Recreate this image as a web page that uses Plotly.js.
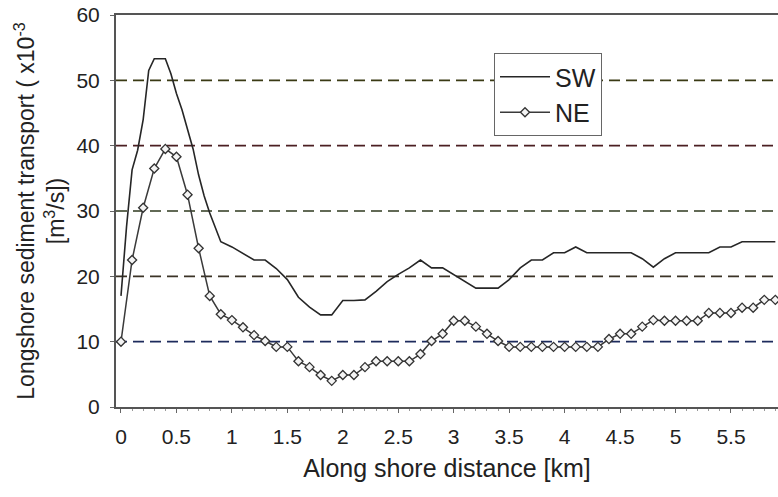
<!DOCTYPE html>
<html>
<head>
<meta charset="utf-8">
<script src="https://cdn.plot.ly/plotly-3.0.1.min.js"></script>
<style>
html,body{margin:0;padding:0;background:#fff;}
#chart{width:778px;height:497px;}
</style>
</head>
<body>
<div id="chart"></div>
<script>
// Along shore distance [km] for NE series
const neX = [0,0.1,0.2,0.3,0.4,0.5,0.6,0.7,0.8,0.9,1.0,1.1,1.2,1.3,1.4,1.5,1.6,1.7,1.8,1.9,2.0,2.1,2.2,2.3,2.4,2.5,2.6,2.7,2.8,2.9,3.0,3.1,3.2,3.3,3.4,3.5,3.6,3.7,3.8,3.9,4.0,4.1,4.2,4.3,4.4,4.5,4.6,4.7,4.8,4.9,5.0,5.1,5.2,5.3,5.4,5.5,5.6,5.7,5.8,5.9];
const neY = [10,22.5,30.5,36.5,39.5,38.3,32.5,24.3,17,14.2,13.3,12.2,11,10.1,9.2,9.2,7,6.1,4.9,4,4.9,4.9,6.1,7,7,7,7,8.1,10.1,11.2,13.2,13.2,12.3,11.2,10.1,9.2,9.2,9.2,9.2,9.2,9.2,9.2,9.2,9.2,10.4,11.2,11.2,12.3,13.3,13.2,13.2,13.2,13.2,14.4,14.4,14.4,15.2,15.2,16.4,16.4];
// SW series
const swX = [0,0.05,0.1,0.15,0.2,0.25,0.3,0.4,0.45,0.5,0.55,0.6,0.65,0.7,0.75,0.8,0.9,1.0,1.1,1.2,1.3,1.4,1.5,1.6,1.7,1.8,1.9,2.0,2.1,2.2,2.3,2.4,2.5,2.6,2.7,2.8,2.9,3.0,3.1,3.2,3.3,3.4,3.5,3.6,3.7,3.8,3.9,4.0,4.1,4.2,4.3,4.4,4.5,4.6,4.7,4.8,4.9,5.0,5.1,5.2,5.3,5.4,5.5,5.6,5.7,5.8,5.9];
const swY = [17,27.6,36.3,39.3,44,51.5,53.3,53.3,51,48,45.5,42.5,39.5,35.5,32.3,29.7,25.3,24.5,23.5,22.5,22.5,21.2,19.5,16.8,15.3,14.1,14.1,16.3,16.3,16.4,17.7,19.2,20.3,21.3,22.5,21.3,21.3,20.3,19.2,18.2,18.2,18.2,19.5,21.3,22.5,22.5,23.6,23.6,24.5,23.6,23.6,23.6,23.6,23.6,22.7,21.4,22.7,23.6,23.6,23.6,23.6,24.5,24.5,25.3,25.3,25.3,25.3];
const xTickVals = [0,0.5,1,1.5,2,2.5,3,3.5,4,4.5,5,5.5];
const xTickText = ['0','0.5','1','1.5','2','2.5','3','3.5','4','4.5','5','5.5'];
const yTickVals = [0,10,20,30,40,50,60];
const gridVals = [10,20,30,40,50];
const gridColors = ['#1d2b5c','#3b3326','#2f3a1f','#4b1f22','#3a3a14'];

const font = 'Liberation Sans, Arial, sans-serif';

const traces = [
  {x: swX, y: swY, name: 'SW', mode: 'lines', type: 'scatter', legendgroup: 'a',
   line: {color: '#262626', width: 1.6}},
  {x: neX, y: neY, name: 'NE', mode: 'lines+markers', type: 'scatter', legendgroup: 'b',
   line: {color: '#3a3a3a', width: 1.5},
   marker: {symbol: 'diamond', size: 7, color: '#f4f4f4', line: {color: '#333', width: 1.3}}}
];

const shapes = gridVals.map((v, i) => ({
  type: 'line', xref: 'paper', x0: 0, x1: 1, yref: 'y', y0: v, y1: v,
  line: {color: gridColors[i], width: 1.6, dash: '11px,6px'}, layer: 'below'
}));

const layout = {
  width: 778, height: 497,
  margin: {l: 116, r: 0, t: 15, b: 90},
  paper_bgcolor: '#fff', plot_bgcolor: '#fff',
  font: {family: font, color: '#222', size: 21},
  showlegend: true,
  legend: {x: 0.571, y: 0.903, xanchor: 'left', yanchor: 'top',
    bgcolor: '#fff', bordercolor: '#666', borderwidth: 1,
    font: {size: 25, color: '#222'}, traceorder: 'grouped', tracegroupgap: 0, itemwidth: 50},
  xaxis: {
    range: [-0.045, 5.924], tickvals: xTickVals, ticktext: xTickText,
    showgrid: false, zeroline: false, showline: true, linecolor: '#555', linewidth: 2,
    mirror: true, ticks: 'outside', ticklen: 4, tickcolor: '#666', ticklabelstandoff: 6,
    minor: {dtick: 0.1, tick0: 0, ticks: 'outside', ticklen: 2, tickcolor: '#999'},
    tickfont: {size: 21, color: '#222'},
    title: {text: 'Along shore distance [km]', font: {size: 25, color: '#222'}, standoff: 12}
  },
  yaxis: {
    range: [0, 60], tickvals: yTickVals,
    showgrid: false, zeroline: false, showline: true, linecolor: '#555', linewidth: 2,
    ticks: 'outside', ticklen: 4, tickcolor: '#666', ticklabelstandoff: 6,
    tickfont: {size: 21, color: '#222'},
    title: {text: 'Longshore sediment transport ( x10<sup>-3</sup><br>[m<sup>3</sup>/s])',
      font: {size: 23, color: '#222'}, standoff: 5}
  },
  shapes: shapes
};

Plotly.newPlot('chart', traces, layout, {displayModeBar: false, staticPlot: true});
</script>
</body>
</html>
